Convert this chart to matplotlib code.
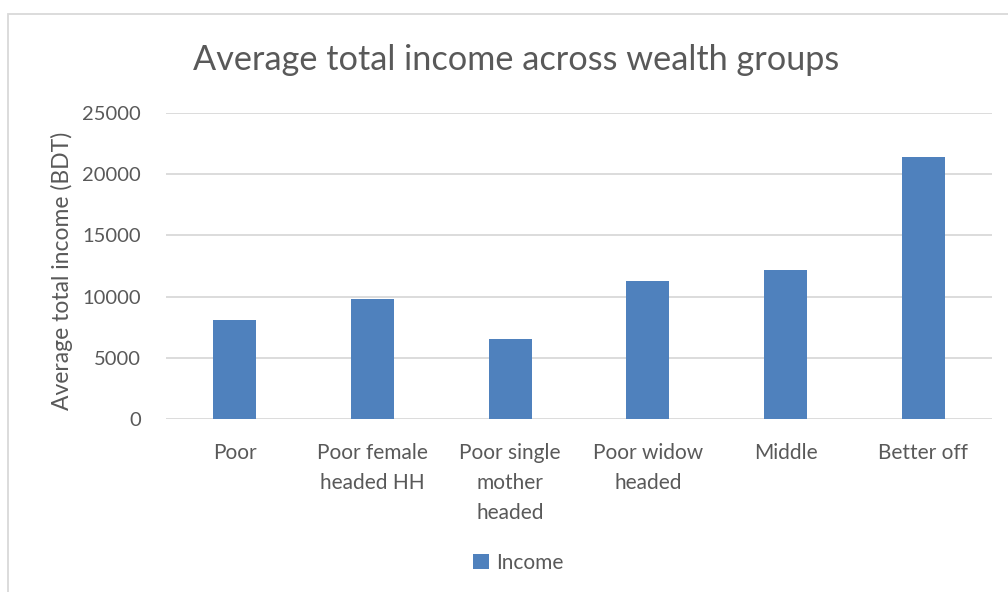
import matplotlib.pyplot as plt
from matplotlib.patches import Rectangle

# average income per wealth group (BDT)
groups = ["Poor", "Poor female\nheaded HH", "Poor single\nmother\nheaded",
          "Poor widow\nheaded", "Middle", "Better off"]
income = [8075, 9810, 6550, 11260, 12180, 21400]
yticks = [0, 5000, 10000, 15000, 20000, 25000]

bar_color = "#4f81bd"
text_color = "#595959"
grid_color = "#d9d9d9"

plt.rcParams["font.family"] = ["Lato", "DejaVu Sans"]

fig = plt.figure(figsize=(10.08, 5.92), dpi=100)
ax = fig.add_axes([0.1647, 0.2917, 0.8194, 0.5178])

x = range(len(groups))
ax.bar(x, income, width=0.312, color=bar_color, label="Income", zorder=3)

ax.set_xlim(-0.5, len(groups) - 0.5)
ax.set_ylim(0, 25000)
ax.set_yticks(yticks)
ax.set_yticklabels([str(v) for v in yticks], fontsize=14.5, color=text_color)
ax.set_xticks(list(x))
ax.set_xticklabels(groups, fontsize=15, color=text_color, linespacing=1.63,
                   va="top")
ax.tick_params(axis="both", length=0)
ax.tick_params(axis="x", pad=17)
ax.tick_params(axis="y", pad=18)
ax.grid(axis="y", color=grid_color, linewidth=1.3, zorder=0)
for s in ax.spines.values():
    s.set_visible(False)

ax.set_ylabel("Average total income (BDT)", fontsize=16.5, color=text_color)
ax.yaxis.set_label_coords(62 / 1008, 1 - 271 / 592, transform=fig.transFigure)
ax.yaxis.label.set_va("center")

fig.text(0.512, 0.898, "Average total income across wealth groups",
         fontsize=24.7, color=text_color, ha="center", va="center")

ax.legend(loc="center", bbox_to_anchor=(0.514, 0.049), bbox_transform=fig.transFigure,
          frameon=False, fontsize=15, labelcolor=text_color,
          handlelength=0.75, handleheight=0.75, handletextpad=0.35)

# outer chart frame
fig.patches.append(Rectangle((8 / 1008, -0.1), 1.1, 1 - 14 / 592 + 0.1,
                             transform=fig.transFigure, fill=False,
                             edgecolor=grid_color, linewidth=1.3))

fig.savefig("out.png", dpi=100)
